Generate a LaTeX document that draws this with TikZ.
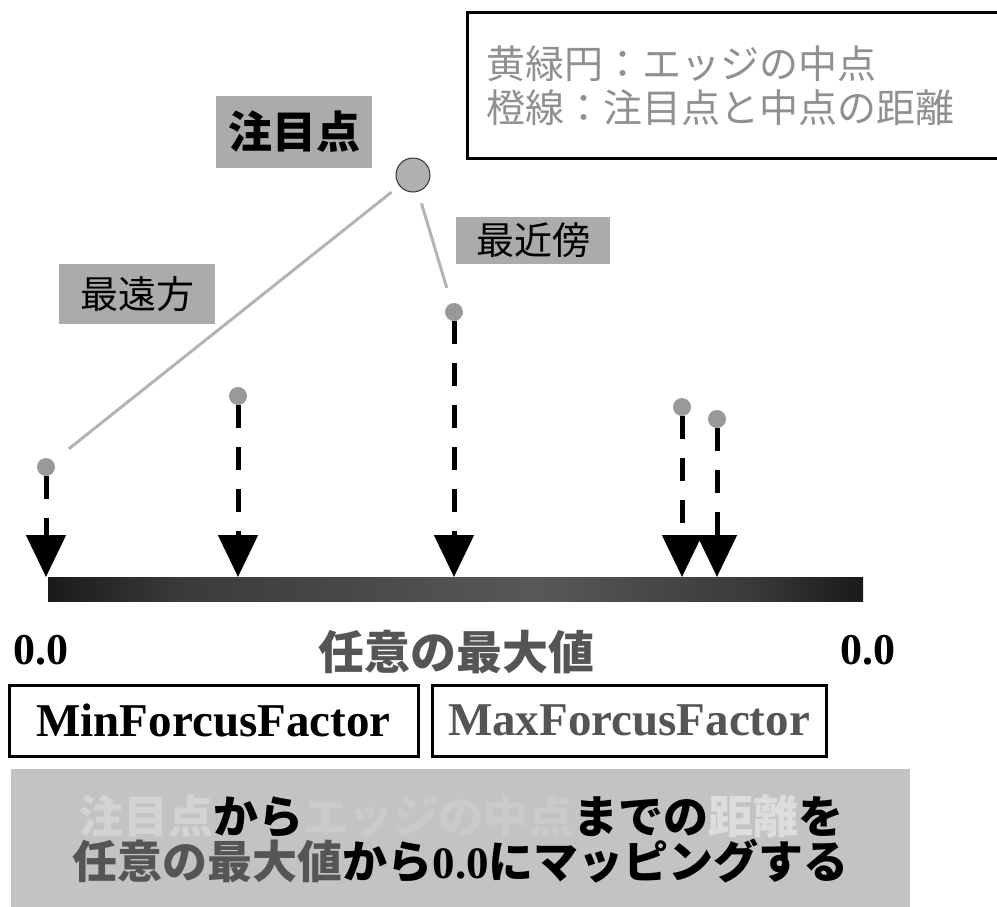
\documentclass[tikz,border=0pt]{standalone}
\usepackage{fontspec}
\setmainfont{Liberation Serif}
\newfontfamily\jp{Noto Sans CJK JP}
\usetikzlibrary{arrows.meta}
\definecolor{labelgray}{HTML}{ABABAB}
\definecolor{legendtext}{HTML}{909090}
\definecolor{linkgray}{HTML}{B4B4B4}
\definecolor{dotgray}{HTML}{999999}
\definecolor{focusgray}{HTML}{B0B0B0}
\definecolor{darkgraytext}{HTML}{555555}
\definecolor{panelgray}{HTML}{C3C3C3}
\definecolor{faintA}{HTML}{D3D3D3}
\definecolor{faintB}{HTML}{CACACA}
\definecolor{faintC}{HTML}{DDDDDD}
\definecolor{barA}{HTML}{1A1A1A}
\definecolor{barB}{HTML}{3A3A3A}
\definecolor{barC}{HTML}{585858}
\pgfdeclarehorizontalshading{barshade}{100bp}{color(0bp)=(barA); color(25bp)=(barA); color(33bp)=(barB); color(55bp)=(barC); color(68bp)=(barB); color(75bp)=(barA); color(100bp)=(barA)}
\begin{document}
\begin{tikzpicture}[x=1pt,y=-1pt,
  tag/.style={fill=labelgray, inner sep=0pt, text=black, font=\jp\fontsize{38}{40}\selectfont},
  edgedot/.style={circle, fill=dotgray, minimum size=18pt, inner sep=0pt},
  link/.style={draw=linkgray, line width=3pt, shorten <=10pt, shorten >=20pt},
  proj/.style={draw=black, line width=5pt, dash pattern=on 23pt off 19pt, -{Triangle[width=39pt,length=42pt]}},
  factorbox/.style={draw=black, line width=3pt, minimum height=71pt, inner sep=0pt, font=\bfseries\fontsize{47}{50}\selectfont},
  zero/.style={font=\bfseries\fontsize{44}{46}\selectfont, text=black, inner sep=0pt}
]
\useasboundingbox (0,0) rectangle (997,906);

% legend box
\node (legend) [draw=black, line width=3pt, fill=white, anchor=north west, minimum height=146pt, text width=500pt, inner xsep=19pt, inner ysep=0pt, align=left, text=legendtext, font=\jp\fontsize{39}{44}\selectfont] at (466,11) {黄緑円：エッジの中点\\橙線：注目点と中点の距離};

% focus point
\node (focuslabel) [tag, minimum width=156pt, minimum height=72pt, font=\jp\bfseries\fontsize{44}{46}\selectfont] at (294,132) {注目点};
\node (focus) [circle, fill=focusgray, draw=black!80, line width=1pt, minimum size=34pt, inner sep=0pt] at (413,175) {};

% edge midpoints
\node (d1) [edgedot] at (46,467) {};
\node (d2) [edgedot] at (238,396) {};
\node (d3) [edgedot] at (454,312) {};
\node (d4) [edgedot] at (682,407) {};
\node (d5) [edgedot] at (717,419) {};

% distance links
\draw[link] (focus) -- (d1);
\draw[link, shorten <=12pt, shorten >=16pt] (focus) -- (d3);

\node (far) [tag, minimum width=156pt, minimum height=60pt] at (137,294) {最遠方};
\node (near) [tag, minimum width=154pt, minimum height=47pt] at (533,240.5) {最近傍};

% bar
\node (bar) [rectangle, shading=barshade, minimum width=815pt, minimum height=24pt, inner sep=0pt, anchor=north west] at (48,577) {};

% projections
\foreach \d in {d1,d2,d3,d4,d5}
  \draw[proj] (\d.south) -- (\d |- bar.north);

% labels under bar
\node (zl) [zero] at (41,650) {0.0};
\node (zr) [zero] at (868,650) {0.0};
\node (maxv) [text=darkgraytext, inner sep=0pt, font=\jp\bfseries\fontsize{46}{48}\selectfont] at (456,652) {任意の最大値};

\node (minf) [factorbox, minimum width=409pt, text=black] at (213.5,720.5) {MinForcusFactor};
\node (maxf) [factorbox, minimum width=394pt, text=darkgraytext] at (629,720.5) {MaxForcusFactor};

% summary panel
\node (summary) [fill=panelgray, anchor=north west, minimum width=899pt, minimum height=140pt, inner sep=0pt, align=center, text=black, font=\jp\bfseries\fontsize{45}{45}\selectfont] at (11,769)
 {\textcolor{faintA}{注目点}から\textcolor{faintB}{エッジの中点}までの\textcolor{faintC}{距離}を\\\textcolor{darkgraytext}{任意の最大値}から{\rmfamily\bfseries 0.0}にマッピングする};
\end{tikzpicture}
\end{document}
